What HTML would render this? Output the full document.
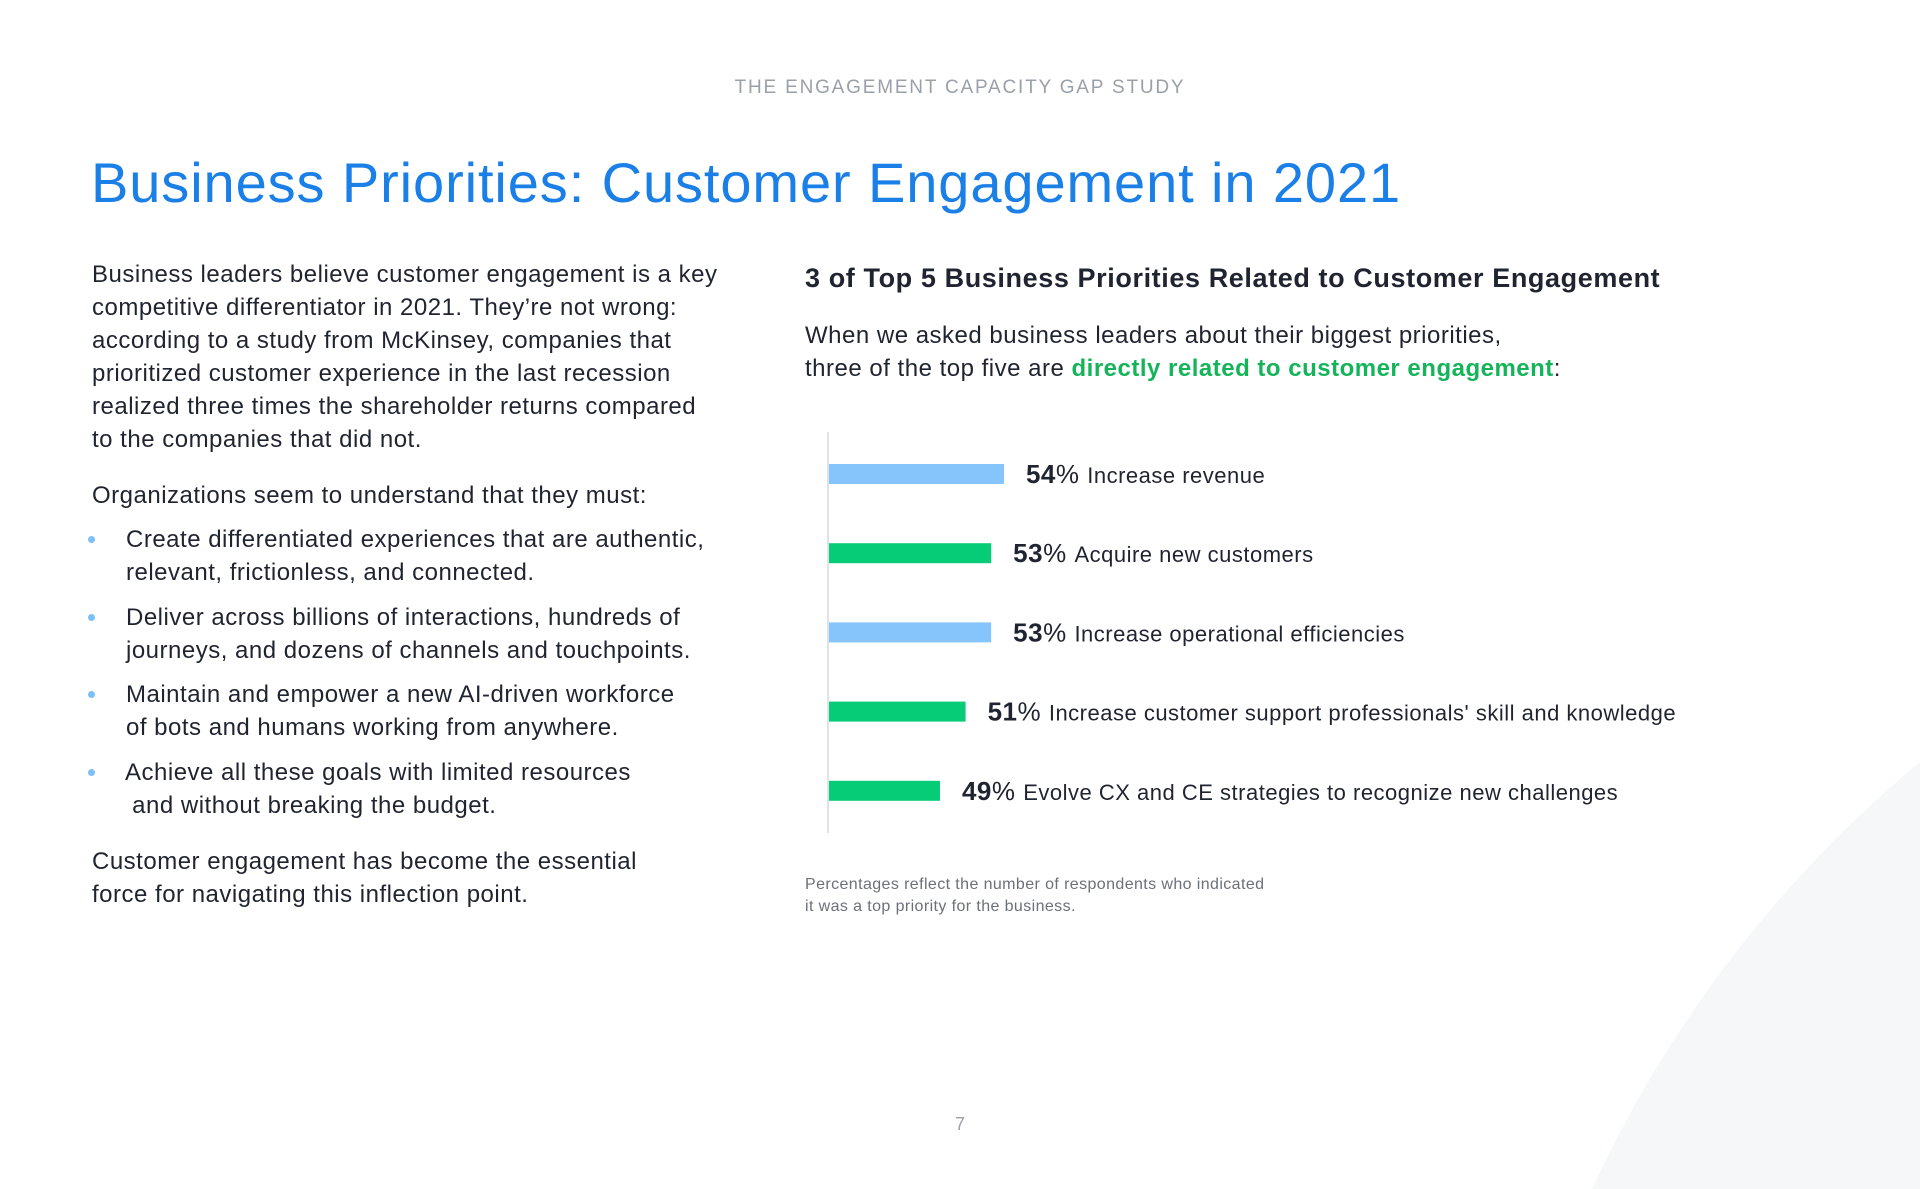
<!DOCTYPE html>
<html><head><meta charset="utf-8">
<style>
html,body{margin:0;padding:0;}
html{width:1920px;height:1189px;overflow:hidden;}
body{width:1920px;height:1189px;position:relative;overflow:hidden;background:#fff;font-family:"Liberation Sans",sans-serif;color:#1f2430;}
.abs{position:absolute;white-space:nowrap;}
.p{font-size:24px;line-height:33px;letter-spacing:0.5px;}
.dot{position:absolute;width:7px;height:7px;border-radius:50%;background:#7cc0f7;}
svg{display:block;}
</style></head><body>
<svg style="position:absolute;left:0;top:0" width="1920" height="1189">
<path d="M1920,762 A1220,1220 0 0 0 1592,1189 L1920,1189 Z" fill="#f6f7f9"/>
</svg>
<div class="abs" style="left:0;width:1920px;text-align:center;top:77px;font-size:19px;letter-spacing:1.8px;color:#9aa0a8;">THE ENGAGEMENT CAPACITY GAP STUDY</div>
<div class="abs" style="left:91px;top:150px;font-size:56px;letter-spacing:0.9px;color:#1a7fe6;">Business Priorities: Customer Engagement in 2021</div>

<div class="abs p" style="left:92px;top:258px;">Business leaders believe customer engagement is a key<br>competitive differentiator in 2021. They’re not wrong:<br>according to a study from McKinsey, companies that<br>prioritized customer experience in the last recession<br>realized three times the shareholder returns compared<br>to the companies that did not.</div>
<div class="abs p" style="left:92px;top:479px;">Organizations seem to understand that they must:</div>
<div class="dot" style="left:88px;top:536px"></div>
<div class="abs p" style="left:126px;top:523px;">Create differentiated experiences that are authentic,<br>relevant, frictionless, and connected.</div>
<div class="dot" style="left:88px;top:614px"></div>
<div class="abs p" style="left:126px;top:601px;">Deliver across billions of interactions, hundreds of<br>journeys, and dozens of channels and touchpoints.</div>
<div class="dot" style="left:88px;top:691px"></div>
<div class="abs p" style="left:126px;top:678px;">Maintain and empower a new AI-driven workforce<br>of bots and humans working from anywhere.</div>
<div class="dot" style="left:88px;top:769px"></div>
<div class="abs p" style="left:125px;top:756px;">Achieve all these goals with limited resources<br>&nbsp;and without breaking the budget.</div>
<div class="abs p" style="left:92px;top:845px;">Customer engagement has become the essential<br>force for navigating this inflection point.</div>

<div class="abs" style="left:805px;top:263px;font-size:27px;letter-spacing:0.6px;font-weight:bold;">3 of Top 5 Business Priorities Related to Customer Engagement</div>
<div class="abs p" style="left:805px;top:319px;">When we asked business leaders about their biggest priorities,<br>three of the top five are <b style="color:#16b45a">directly related to customer engagement</b>:</div>

<svg id="chart" style="position:absolute;left:0;top:0" width="1920" height="1189"></svg>

<div class="abs" style="left:805px;top:874px;font-size:16px;line-height:22px;letter-spacing:0.4px;color:#6b7079;">Percentages reflect the number of respondents who indicated<br>it was a top priority for the business.</div>
<div class="abs" style="left:0;width:1920px;text-align:center;top:1113px;font-size:18px;line-height:22px;color:#9aa0a8;">7</div>

<script>
const categories = ["Increase revenue","Acquire new customers","Increase operational efficiencies","Increase customer support professionals' skill and knowledge","Evolve CX and CE strategies to recognize new challenges"];
const values = [54,53,53,51,49];
const engagementRelated = [false,true,false,true,true];

const NS="http://www.w3.org/2000/svg";
const svg=document.getElementById('chart');
const x0=829, pxPerPct=12.8, domainMin=40.33;
function xScale(v){return x0+(v-domainMin)*pxPerPct;}
const yTop=474, yStep=79.2;
function yScale(i){return yTop+i*yStep;}

const axis=document.createElementNS(NS,'line');


axis.setAttribute('x1',828);axis.setAttribute('x2',828);
axis.setAttribute('y1',432);axis.setAttribute('y2',833);
axis.setAttribute('stroke','#dfe2e8');axis.setAttribute('stroke-width','2');
svg.appendChild(axis);

values.forEach((v,i)=>{
  const cy=yScale(i), xe=xScale(v);
  const r=document.createElementNS(NS,'rect');
  
  
  r.setAttribute('x',x0);r.setAttribute('y',cy-10);
  r.setAttribute('width',xe-x0);r.setAttribute('height',20);
  r.setAttribute('fill',engagementRelated[i]?'#06cc78':'#86c5fb');
  svg.appendChild(r);
  const t=document.createElementNS(NS,'text');
  
  
  t.setAttribute('x',xe+22);t.setAttribute('y',cy+9);
  t.setAttribute('font-family','Liberation Sans, sans-serif');
  t.setAttribute('letter-spacing','0.5');
  t.setAttribute('fill','#1f2430');
  const b=document.createElementNS(NS,'tspan');
  b.setAttribute('font-size','26');b.setAttribute('font-weight','bold');
  b.textContent=v;
  const pc=document.createElementNS(NS,'tspan');
  pc.setAttribute('font-size','26');pc.textContent='% ';
  const lab=document.createElementNS(NS,'tspan');
  lab.setAttribute('font-size','22');lab.textContent=categories[i];
  t.appendChild(b);t.appendChild(pc);t.appendChild(lab);
  svg.appendChild(t);
});
</script>
</body></html>
